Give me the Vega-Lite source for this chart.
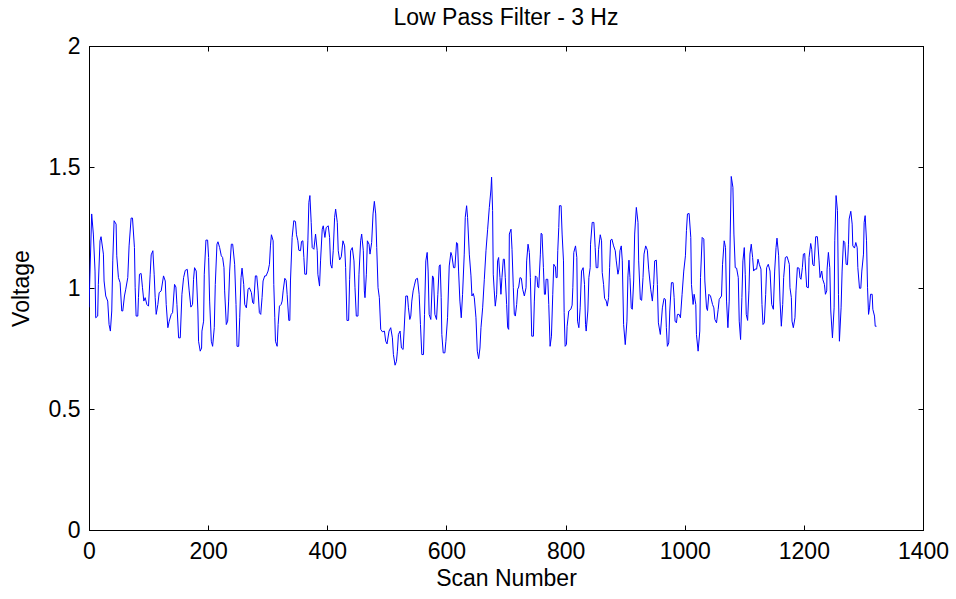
{
  "$schema": "https://vega.github.io/schema/vega-lite/v6.json",
  "width": 834,
  "height": 484,
  "autosize": {"type": "none"},
  "padding": {"left": 89, "top": 46, "right": 33, "bottom": 69},
  "background": "white",
  "title": {"text": "Low Pass Filter - 3 Hz", "fontSize": 23, "font": "Liberation Sans", "fontWeight": "normal", "offset": 5, "color": "black"},
  "data": {"values": [
{"s":0,"v":0.92},{"s":4.5,"v":1.306},{"s":7.3,"v":1.223},{"s":10.1,"v":1.07},{"s":11.3,"v":0.877},{"s":14.6,"v":0.884},{"s":15.7,"v":1.015},{"s":18.5,"v":1.195},{"s":20.2,"v":1.212},{"s":24.2,"v":1.14},{"s":25.3,"v":1.029},{"s":28.1,"v":0.967},{"s":31.4,"v":0.946},{"s":33.7,"v":0.849},{"s":35.9,"v":0.822},{"s":38.2,"v":0.905},{"s":39.9,"v":1.112},{"s":42.1,"v":1.278},{"s":45.5,"v":1.264},{"s":46.6,"v":1.133},{"s":49.4,"v":1.043},{"s":52.2,"v":1.022},{"s":55,"v":0.905},{"s":56.7,"v":0.905},{"s":59.5,"v":0.967},{"s":61.7,"v":0.995},{"s":65.1,"v":1.043},{"s":67.3,"v":1.174},{"s":70.7,"v":1.289},{"s":73,"v":1.289},{"s":76.3,"v":1.167},{"s":77.5,"v":1.001},{"s":79.1,"v":0.884},{"s":81.9,"v":0.884},{"s":83,"v":0.96},{"s":84.7,"v":1.057},{"s":87.5,"v":1.06},{"s":89.8,"v":1.001},{"s":92,"v":0.946},{"s":94.3,"v":0.96},{"s":97.1,"v":0.932},{"s":99.9,"v":0.925},{"s":102.7,"v":1.057},{"s":104.4,"v":1.137},{"s":107.2,"v":1.154},{"s":109.4,"v":1.057},{"s":111.1,"v":0.96},{"s":112.8,"v":0.891},{"s":115.6,"v":0.932},{"s":117.8,"v":0.981},{"s":121.2,"v":0.988},{"s":125.1,"v":1.05},{"s":128,"v":1.029},{"s":129.6,"v":0.932},{"s":132.4,"v":0.836},{"s":134.7,"v":0.863},{"s":138,"v":0.891},{"s":140.3,"v":0.898},{"s":143.6,"v":1.015},{"s":145.9,"v":1.004},{"s":147.6,"v":0.932},{"s":150.4,"v":0.794},{"s":153.2,"v":0.794},{"s":156,"v":0.974},{"s":158.8,"v":1.043},{"s":161.6,"v":1.073},{"s":165,"v":1.077},
{"s":168.2,"v":0.988},{"s":171,"v":0.921},{"s":173.8,"v":0.932},{"s":175.5,"v":1.036},{"s":177.2,"v":1.084},{"s":180,"v":1.07},{"s":182.8,"v":0.905},{"s":183.9,"v":0.78},{"s":186.7,"v":0.739},{"s":189,"v":0.752},{"s":189.6,"v":0.822},{"s":192.4,"v":0.863},{"s":193.5,"v":1.057},{"s":196.3,"v":1.198},{"s":199.1,"v":1.198},{"s":200.8,"v":1.126},{"s":202.5,"v":0.946},{"s":205.3,"v":0.78},{"s":207.5,"v":0.759},{"s":210.3,"v":0.836},{"s":212,"v":1.015},{"s":214.8,"v":1.181},{"s":216.5,"v":1.191},{"s":219.3,"v":1.167},{"s":222.1,"v":1.133},{"s":224.3,"v":1.126},{"s":226.6,"v":1.084},{"s":227.7,"v":0.988},{"s":230.5,"v":0.849},{"s":232.8,"v":0.863},{"s":234.4,"v":0.946},{"s":236.1,"v":1.07},{"s":238.9,"v":1.181},{"s":241.2,"v":1.181},{"s":244.5,"v":1.098},{"s":246.8,"v":0.932},{"s":248.5,"v":0.759},{"s":251.3,"v":0.759},{"s":253,"v":0.877},{"s":255.2,"v":1.043},{"s":256.9,"v":1.082},{"s":259.7,"v":1.015},{"s":261.4,"v":0.932},{"s":264.2,"v":0.918},{"s":267,"v":0.995},{"s":269.2,"v":1.001},{"s":272.6,"v":0.981},{"s":274.8,"v":0.939},{"s":276.5,"v":0.935},{"s":279.3,"v":1.05},{"s":281.6,"v":1.05},{"s":283.8,"v":0.988},{"s":286,"v":0.898},{"s":288.3,"v":0.891},{"s":290.5,"v":0.96},{"s":292.2,"v":1.029},{"s":295,"v":1.05},{"s":297.3,"v":1.05},{"s":300.6,"v":1.07},{"s":302.9,"v":1.098},{"s":304.6,"v":1.174},{"s":306.2,"v":1.22},{"s":309.1,"v":1.195},{"s":310.2,"v":1.015},{"s":311.9,"v":0.877},{"s":313,"v":0.78},{"s":315.8,"v":0.759},{"s":317.5,"v":0.849},{"s":319.7,"v":0.925},{"s":322.5,"v":0.932},{"s":324.2,"v":0.946},{"s":325.9,"v":0.988},{"s":328.7,"v":1.04},{"s":330.9,"v":1.032},{"s":332.6,"v":0.974},{"s":335.4,"v":0.866},{"s":337.1,"v":0.866},{"s":338.2,"v":1.029},
{"s":341,"v":1.209},{"s":343.8,"v":1.278},{"s":346.6,"v":1.275},{"s":348.3,"v":1.22},{"s":350.6,"v":1.195},{"s":352.2,"v":1.156},{"s":355.1,"v":1.154},{"s":356.7,"v":1.192},{"s":359,"v":1.195},{"s":360.7,"v":1.126},{"s":362.3,"v":1.057},{"s":365.1,"v":1.057},{"s":367.4,"v":1.195},{"s":369.1,"v":1.354},{"s":370.8,"v":1.382},{"s":373,"v":1.271},{"s":374.7,"v":1.167},{"s":377.5,"v":1.16},{"s":380.3,"v":1.223},{"s":383.1,"v":1.154},{"s":384.2,"v":1.057},{"s":387,"v":1.008},{"s":388.7,"v":1.112},{"s":391.5,"v":1.243},{"s":393.2,"v":1.257},{"s":396,"v":1.209},{"s":398.2,"v":1.25},{"s":401.6,"v":1.257},{"s":403.9,"v":1.209},{"s":405.5,"v":1.098},{"s":407.8,"v":1.082},{"s":410,"v":1.154},{"s":412.3,"v":1.292},{"s":414,"v":1.326},{"s":416.8,"v":1.271},{"s":418.4,"v":1.154},{"s":420.7,"v":1.116},{"s":423.5,"v":1.129},{"s":426.3,"v":1.195},{"s":429.1,"v":1.174},{"s":430.8,"v":1.084},{"s":433,"v":0.866},{"s":435.8,"v":0.866},{"s":437.5,"v":1.036},{"s":439.2,"v":1.154},{"s":442,"v":1.167},{"s":444.8,"v":1.112},{"s":446.5,"v":1.001},{"s":448.7,"v":0.884},{"s":451.5,"v":0.884},{"s":453.2,"v":1.057},{"s":456,"v":1.195},{"s":457.7,"v":1.223},{"s":460.5,"v":1.154},{"s":462.2,"v":0.988},{"s":463.3,"v":0.96},{"s":465.6,"v":1.057},{"s":467.3,"v":1.195},{"s":470.1,"v":1.181},{"s":471.7,"v":1.14},{"s":474.5,"v":1.188},{"s":476.8,"v":1.306},{"s":479,"v":1.358},{"s":481.3,"v":1.306},{"s":483,"v":1.167},{"s":485.2,"v":1.001},{"s":487.4,"v":0.96},{"s":489.7,"v":0.829},{"s":492.5,"v":0.819},{"s":495.9,"v":0.822},{"s":498.1,"v":0.78},{"s":500.3,"v":0.769},{"s":503.7,"v":0.822},{"s":506.5,"v":0.836},
{"s":509.3,"v":0.794},{"s":511,"v":0.725},{"s":513.8,"v":0.681},{"s":516.1,"v":0.697},{"s":517.7,"v":0.739},{"s":519.4,"v":0.808},{"s":522.2,"v":0.822},{"s":524.5,"v":0.752},{"s":527.3,"v":0.746},{"s":528.9,"v":0.822},{"s":531.8,"v":0.967},{"s":534.6,"v":0.967},{"s":536.2,"v":0.918},{"s":538.5,"v":0.87},{"s":540.2,"v":0.884},{"s":541.9,"v":0.946},{"s":544.1,"v":0.988},{"s":546.3,"v":1.012},{"s":548.6,"v":1.036},{"s":551.4,"v":1.04},{"s":554.2,"v":0.974},{"s":556.4,"v":0.849},{"s":558.7,"v":0.725},{"s":561.5,"v":0.725},{"s":563.2,"v":0.891},{"s":565.4,"v":1.112},{"s":567.7,"v":1.147},{"s":569.3,"v":1.07},{"s":571,"v":0.891},{"s":573.8,"v":0.87},{"s":576.6,"v":1.05},{"s":578.3,"v":1.043},{"s":580.6,"v":0.891},{"s":583.4,"v":0.87},{"s":585.6,"v":0.974},{"s":587.9,"v":1.091},{"s":589.5,"v":1.096},{"s":591.2,"v":0.96},{"s":592.3,"v":0.808},{"s":594.6,"v":0.732},{"s":597.4,"v":0.732},{"s":599.1,"v":0.78},{"s":601.9,"v":0.877},{"s":604.7,"v":1.091},{"s":607.5,"v":1.147},{"s":609.2,"v":1.133},{"s":612,"v":1.084},{"s":614.2,"v":1.084},{"s":617,"v":1.188},{"s":618.7,"v":1.184},{"s":620.4,"v":1.07},{"s":622.6,"v":0.946},{"s":624.9,"v":0.877},{"s":627.1,"v":0.974},{"s":629.9,"v":1.14},{"s":631.6,"v":1.292},{"s":633.9,"v":1.34},{"s":635.5,"v":1.292},{"s":638.4,"v":1.14},{"s":641.2,"v":1.05},{"s":642.8,"v":0.967},{"s":645.1,"v":0.977},{"s":646.8,"v":0.96},{"s":649.6,"v":0.877},{"s":651.8,"v":0.739},{"s":654.1,"v":0.708},{"s":656.3,"v":0.752},{"s":658,"v":0.836},{"s":660.8,"v":0.918},{"s":663.6,"v":1.036},{"s":666.4,"v":1.154},{"s":669.2,"v":1.243},{"s":672,"v":1.333},{"s":674.8,"v":1.409},
{"s":675.8,"v":1.458},{"s":677.5,"v":1.32},{"s":678.6,"v":1.057},{"s":680.3,"v":0.988},{"s":682,"v":0.925},{"s":684.3,"v":0.974},{"s":685.9,"v":1.112},{"s":687.6,"v":1.126},{"s":689.9,"v":1.043},{"s":691.5,"v":0.974},{"s":693.2,"v":1.043},{"s":695.5,"v":1.119},{"s":697.2,"v":1.119},{"s":698.8,"v":1.043},{"s":701.1,"v":0.932},{"s":702.8,"v":0.836},{"s":704.5,"v":0.829},{"s":705.6,"v":1.223},{"s":708.4,"v":1.243},{"s":710.1,"v":1.16},{"s":712.3,"v":1.001},{"s":714,"v":0.891},{"s":715.7,"v":0.884},{"s":717.9,"v":0.932},{"s":719.6,"v":0.995},{"s":721.3,"v":1.004},{"s":723.5,"v":1.043},{"s":725.8,"v":1.04},{"s":728,"v":0.995},{"s":730.8,"v":0.967},{"s":733.6,"v":1.001},{"s":734.7,"v":1.112},{"s":737,"v":1.181},{"s":739.2,"v":1.147},{"s":740.9,"v":1.043},{"s":743.2,"v":0.801},{"s":746,"v":0.801},{"s":747.6,"v":0.946},{"s":749.3,"v":1.05},{"s":752.1,"v":1.043},{"s":753.3,"v":1.004},{"s":754.9,"v":1.001},{"s":757.7,"v":1.14},{"s":758.9,"v":1.226},{"s":760.5,"v":1.223},{"s":762.8,"v":1.084},{"s":764.5,"v":0.974},{"s":766.2,"v":0.974},{"s":767.3,"v":1.036},{"s":770.1,"v":1.036},{"s":771.8,"v":0.932},{"s":774,"v":0.759},{"s":776.3,"v":0.801},{"s":778.5,"v":0.974},{"s":780.2,"v":1.098},{"s":783,"v":1.087},{"s":784.1,"v":1.043},{"s":785.8,"v":1.043},{"s":786.9,"v":1.154},{"s":788.6,"v":1.25},{"s":789.7,"v":1.34},{"s":792.5,"v":1.34},{"s":794.2,"v":1.223},{"s":796.5,"v":1.112},{"s":797.6,"v":0.898},{"s":799.3,"v":0.759},{"s":801.5,"v":0.766},{"s":802.6,"v":0.842},{"s":805.4,"v":0.905},{"s":808.8,"v":0.912},{"s":811,"v":0.929},{"s":812.2,"v":1.001},{"s":813.8,"v":1.147},{"s":816.7,"v":1.174},{"s":818.9,"v":1.126},{"s":820.1,"v":0.863},{"s":822.3,"v":0.836},{"s":824.5,"v":0.918},{"s":826.8,"v":1.07},{"s":829.5,"v":1.084},{"s":831.8,"v":1.015},{"s":833.5,"v":0.849},
{"s":834.6,"v":0.822},{"s":837.4,"v":0.905},{"s":839.1,"v":1.043},{"s":841.3,"v":1.084},{"s":841.9,"v":1.181},{"s":844.7,"v":1.271},{"s":847.5,"v":1.271},{"s":849.7,"v":1.167},{"s":851.4,"v":1.084},{"s":854.2,"v":1.084},{"s":855.4,"v":1.16},{"s":858.2,"v":1.22},{"s":860.4,"v":1.195},{"s":861.5,"v":1.064},{"s":863.8,"v":1.015},{"s":865.5,"v":0.957},{"s":868.3,"v":0.946},{"s":870,"v":0.925},{"s":872.2,"v":0.96},{"s":873.9,"v":1.084},{"s":875.6,"v":1.198},{"s":877.8,"v":1.202},{"s":880.6,"v":1.174},{"s":883.4,"v":1.154},{"s":885.1,"v":1.112},{"s":887.9,"v":1.057},{"s":889.6,"v":1.078},{"s":891.3,"v":1.154},{"s":893.5,"v":1.174},{"s":895.2,"v":1.112},{"s":897.4,"v":0.849},{"s":900.2,"v":0.766},{"s":903,"v":0.863},{"s":904.7,"v":1.05},{"s":906.4,"v":1.115},{"s":908.1,"v":1.043},{"s":910.3,"v":0.918},{"s":912,"v":0.912},{"s":914.3,"v":1.029},{"s":916,"v":1.223},{"s":918.8,"v":1.333},{"s":921.6,"v":1.271},{"s":922.7,"v":1.112},{"s":925.5,"v":0.953},{"s":927.7,"v":0.949},{"s":930,"v":1.043},{"s":931.7,"v":1.14},{"s":934.5,"v":1.174},{"s":937.3,"v":1.156},{"s":939.5,"v":1.078},{"s":942.9,"v":0.995},{"s":945.7,"v":0.946},{"s":947.9,"v":1.015},{"s":949.6,"v":1.112},{"s":952.4,"v":1.115},{"s":954.1,"v":1.015},{"s":955.8,"v":0.856},{"s":959.1,"v":0.808},{"s":962.5,"v":0.918},{"s":965.3,"v":0.957},{"s":967.6,"v":0.953},{"s":969.2,"v":0.836},{"s":970.9,"v":0.759},{"s":973.2,"v":0.773},{"s":974.9,"v":0.905},{"s":977.7,"v":1.022},{"s":980.5,"v":1.022},{"s":982.2,"v":0.96},{"s":983.8,"v":0.863},{"s":986.1,"v":0.856},{"s":987.8,"v":0.891},{"s":990.6,"v":0.891},{"s":992.8,"v":0.877},{"s":995.6,"v":0.974},{"s":998.4,"v":1.07},{"s":1001.2,"v":1.133},{"s":1002.9,"v":1.237},{"s":1004.6,"v":1.306},{"s":1007.4,"v":1.308},{"s":1010.2,"v":1.209},{"s":1011.3,"v":1.015},
{"s":1014.1,"v":0.932},{"s":1015.8,"v":0.974},{"s":1018.6,"v":0.932},{"s":1019.7,"v":0.808},{"s":1022.5,"v":0.739},{"s":1025.3,"v":0.822},{"s":1026.5,"v":1.043},{"s":1029.3,"v":1.209},{"s":1032.1,"v":1.202},{"s":1033.8,"v":1.029},{"s":1036.6,"v":0.918},{"s":1038.2,"v":0.907},{"s":1040.5,"v":0.974},{"s":1043.3,"v":0.967},{"s":1046.7,"v":0.932},{"s":1048.9,"v":0.918},{"s":1050.6,"v":0.87},{"s":1053.4,"v":0.856},{"s":1056.2,"v":0.912},{"s":1057.9,"v":0.953},{"s":1061.8,"v":0.967},{"s":1063.5,"v":1.098},{"s":1066.3,"v":1.195},{"s":1068.5,"v":1.167},{"s":1070.2,"v":0.946},{"s":1072.5,"v":0.836},{"s":1074.7,"v":0.946},{"s":1076.4,"v":1.223},{"s":1078.1,"v":1.461},{"s":1080.9,"v":1.416},{"s":1082.6,"v":1.223},{"s":1084.8,"v":1.084},{"s":1087.1,"v":1.082},{"s":1089.9,"v":1.043},{"s":1091.5,"v":0.863},{"s":1093.8,"v":0.787},{"s":1096,"v":0.96},{"s":1097.7,"v":1.112},{"s":1100,"v":1.167},{"s":1101.6,"v":1.057},{"s":1103.3,"v":0.891},{"s":1105.6,"v":0.866},{"s":1107.8,"v":0.988},{"s":1109.5,"v":1.14},{"s":1111.7,"v":1.181},{"s":1114,"v":1.126},{"s":1115.7,"v":1.07},{"s":1117.9,"v":1.078},{"s":1120.7,"v":1.078},{"s":1123,"v":1.119},{"s":1125.2,"v":1.098},{"s":1128,"v":1.078},{"s":1129.7,"v":0.932},{"s":1131.4,"v":0.849},{"s":1133.6,"v":0.856},{"s":1135.9,"v":0.974},{"s":1137.5,"v":1.084},{"s":1140.3,"v":1.098},{"s":1143.2,"v":1.07},{"s":1146,"v":0.932},{"s":1148.8,"v":0.912},{"s":1151,"v":1.07},{"s":1153.3,"v":1.167},{"s":1154.9,"v":1.206},{"s":1157.7,"v":1.133},{"s":1160,"v":0.946},{"s":1162.2,"v":0.842},{"s":1164.5,"v":0.932},{"s":1166.1,"v":1.043},{"s":1168.9,"v":1.126},{"s":1171.8,"v":1.13},{"s":1174,"v":1.112},
{"s":1175.6,"v":1.098},{"s":1176.7,"v":1.001},{"s":1179,"v":0.96},{"s":1180.1,"v":0.863},{"s":1182.3,"v":0.836},{"s":1185.1,"v":0.877},{"s":1186.8,"v":0.988},{"s":1189.1,"v":1.084},{"s":1191.9,"v":1.082},{"s":1193.5,"v":1.043},{"s":1195.2,"v":1.036},{"s":1197.5,"v":1.084},{"s":1199.2,"v":1.14},{"s":1201.4,"v":1.143},{"s":1203.1,"v":1.07},{"s":1204.8,"v":1.004},{"s":1207.6,"v":1.001},{"s":1208.7,"v":1.126},{"s":1211.5,"v":1.184},{"s":1213.2,"v":1.16},{"s":1214.9,"v":1.098},{"s":1217.1,"v":1.091},{"s":1219.9,"v":1.212},{"s":1222.7,"v":1.212},{"s":1225.5,"v":1.112},{"s":1227.2,"v":1.043},{"s":1230,"v":1.07},{"s":1231.7,"v":1.036},{"s":1234.5,"v":1.015},{"s":1236.2,"v":0.974},{"s":1238.4,"v":0.988},{"s":1239,"v":1.078},{"s":1241.2,"v":1.147},{"s":1243.5,"v":1.084},{"s":1245.2,"v":0.905},{"s":1248,"v":0.794},{"s":1250.8,"v":0.918},{"s":1251.9,"v":1.195},{"s":1254.1,"v":1.382},{"s":1256.4,"v":1.32},{"s":1258.1,"v":0.974},{"s":1259.7,"v":0.78},{"s":1262.5,"v":0.918},{"s":1264.2,"v":1.07},{"s":1266.5,"v":1.195},{"s":1268.7,"v":1.188},{"s":1271,"v":1.098},{"s":1273.2,"v":1.096},{"s":1274.9,"v":1.181},{"s":1276,"v":1.285},{"s":1278.8,"v":1.317},{"s":1281.1,"v":1.264},{"s":1282.2,"v":1.174},{"s":1285,"v":1.165},{"s":1287.2,"v":1.188},{"s":1289.5,"v":1.167},{"s":1290.6,"v":1.084},{"s":1293.4,"v":0.999},{"s":1295.6,"v":0.999},{"s":1297.3,"v":1.07},{"s":1300.1,"v":1.14},{"s":1301.2,"v":1.271},{"s":1302.9,"v":1.299},{"s":1305.2,"v":1.195},{"s":1306.9,"v":1.001},{"s":1308.6,"v":0.891},{"s":1310.2,"v":0.918},{"s":1311.9,"v":0.974},{"s":1314.7,"v":0.974},{"s":1315.8,"v":0.912},{"s":1318.6,"v":0.884},{"s":1319.8,"v":0.842},{"s":1322,"v":0.842}
  ]},
  "layer": [
    {
      "mark": {"type": "line", "color": "#0000ff", "strokeWidth": 1, "clip": true},
      "encoding": {
        "x": {"field": "s", "type": "quantitative", "scale": {"domain": [0, 1400], "nice": false},
              "axis": {"orient": "bottom", "title": "Scan Number", "values": [0, 200, 400, 600, 800, 1000, 1200, 1400], "format": "d", "labelPadding": 15, "titlePadding": 4}},
        "y": {"field": "v", "type": "quantitative", "scale": {"domain": [0, 2], "nice": false, "zero": false},
              "axis": {"orient": "left", "title": "Voltage", "values": [0, 0.5, 1, 1.5, 2], "format": ".1~f", "labelPadding": 14, "titlePadding": 15}}
      }
    },
    {
      "mark": {"type": "line", "opacity": 0},
      "encoding": {
        "x": {"field": "s", "type": "quantitative", "scale": {"domain": [0, 1400], "nice": false},
              "axis": {"orient": "top", "title": null, "labels": false, "values": [0, 200, 400, 600, 800, 1000, 1200, 1400]}},
        "y": {"field": "v", "type": "quantitative", "scale": {"domain": [0, 2], "nice": false, "zero": false},
              "axis": {"orient": "right", "title": null, "labels": false, "values": [0, 0.5, 1, 1.5, 2]}}
      }
    }
  ],
  "resolve": {"axis": {"x": "independent", "y": "independent"}},
  "config": {
    "view": {"stroke": "black", "strokeWidth": 1},
    "axis": {
      "grid": false,
      "domainColor": "black",
      "domainWidth": 1,
      "tickColor": "black",
      "tickSize": -5,
      "tickWidth": 1,
      "labelFont": "Liberation Sans",
      "labelFontSize": 23,
      "labelColor": "black",
      "labelFlush": false,
      "labelOverlap": false,
      "titleFont": "Liberation Sans",
      "titleFontSize": 23,
      "titleFontWeight": "normal",
      "titleColor": "black"
    }
  }
}
